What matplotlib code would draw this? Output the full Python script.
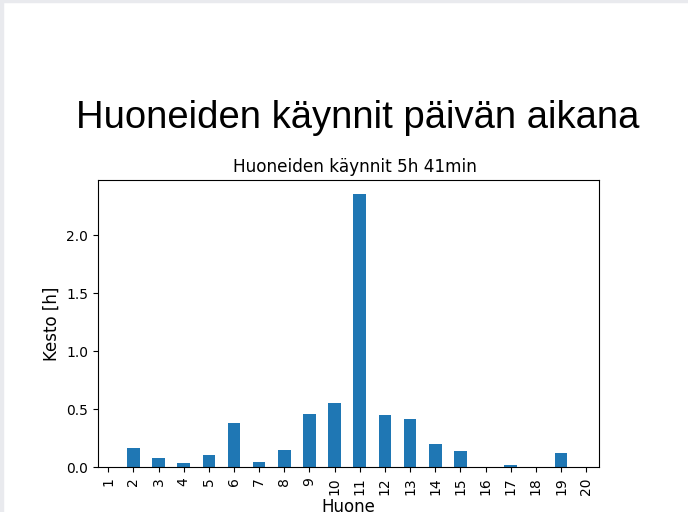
import matplotlib
matplotlib.use("Agg")
import matplotlib.pyplot as plt
from matplotlib.patches import Rectangle

rooms = [str(i) for i in range(1, 21)]
hours = [0.0, 0.170, 0.081, 0.035, 0.104, 0.381, 0.046, 0.150, 0.462, 0.552,
         2.360, 0.451, 0.416, 0.205, 0.139, 0.0, 0.020, 0.0, 0.121, 0.0]

suptitle = "Huoneiden käynnit päivän aikana"
title = "Huoneiden käynnit 5h 41min"
xlabel = "Huone"
ylabel = "Kesto [h]"

W, H = 688, 512
fig = plt.figure(figsize=(W / 100, H / 100), dpi=100)
ax = fig.add_axes([97.7 / W, 1 - 467.3 / H, 501 / W, 287.3 / H])

pos = list(range(len(rooms)))
ax.bar(pos, hours, width=0.5, color="#1f77b4")
ax.set_xticks(pos)
ax.set_xticklabels(rooms, rotation=90, fontsize=10)
ax.set_xlim(-0.42, 19.5)
ax.tick_params(axis="y", labelsize=10)
ax.set_xlabel(xlabel, fontsize=12, labelpad=2)
ax.set_ylabel(ylabel, fontsize=12)
ax.set_title(title, fontsize=12.2, x=0.513)

fig.text(358 / W, 1 - 127.7 / H, suptitle, fontsize=27.5,
         family="Liberation Sans", ha="center", va="baseline")

# screenshot edges
fig.patches.append(Rectangle((0, 0), 3 / W, 1, transform=fig.transFigure,
                             color="#e9eaee", zorder=0))
fig.patches.append(Rectangle((0, 1 - 1.5 / H), 1, 1.5 / H, transform=fig.transFigure,
                             color="#e9eaee", zorder=0))

fig.savefig("out.png", dpi=100)
